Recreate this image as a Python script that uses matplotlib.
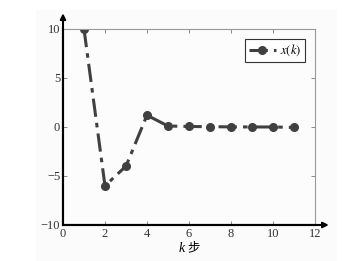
import matplotlib
matplotlib.use('Agg')
import matplotlib.pyplot as plt

# Data
k = [1, 2, 3, 4, 5, 6, 7, 8, 9, 10, 11]
x_k = [10, -6, -4, 1.2, 0.1, 0.05, 0.03, 0.01, 0.0, 0.0, -0.05]
x_ticks = [0, 2, 4, 6, 8, 10, 12]
y_ticks = [-10, -5, 0, 5, 10]
y_ticklabels = ['\u221210', '\u22125', '0', '5', '10']

plt.rcParams['font.family'] = ['Liberation Serif', 'Noto Sans CJK SC']
plt.rcParams['mathtext.fontset'] = 'stix'

fig = plt.figure(figsize=(3.62, 2.61), dpi=100)
fig.patch.set_facecolor('white')
# faint grey page behind the plot
fig.patches.append(plt.Rectangle((0.10, 0.0), 0.83, 0.96, transform=fig.transFigure,
                                 facecolor='#fbfbfb', edgecolor='none', zorder=-1))
ax = fig.add_axes([0.174, 0.138, 0.696, 0.751])
ax.set_facecolor('#fcfcfc')

line_col = '#404040'
ax.plot(k, x_k, color=line_col, linestyle='-.', linewidth=2.2,
        marker='o', markersize=5.5, markerfacecolor=line_col,
        markeredgecolor=line_col, label='$x(k)$', dashes=(6, 2, 1.5, 2))

ax.set_xlim(0, 12)
ax.set_ylim(-10, 10)
ax.set_xticks(x_ticks)
ax.set_yticks(y_ticks)
ax.set_yticklabels(y_ticklabels)
ax.tick_params(direction='in', length=3, width=0.6, labelsize=9,
               top=True, right=True, color='#777777', labelcolor='#333333', pad=2)

for side in ['top', 'right']:
    ax.spines[side].set_color('#999999')
    ax.spines[side].set_linewidth(0.8)
for side in ['left', 'bottom']:
    ax.spines[side].set_color('black')
    ax.spines[side].set_linewidth(1.5)

# Arrow heads on the axes
ax.annotate('', xy=(0, 1.08), xytext=(0, 0), xycoords='axes fraction',
            arrowprops=dict(arrowstyle='-|>', color='black', lw=1.5,
                            mutation_scale=8, shrinkA=0, shrinkB=0),
            annotation_clip=False)
ax.annotate('', xy=(1.055, 0), xytext=(0, 0), xycoords='axes fraction',
            arrowprops=dict(arrowstyle='-|>', color='black', lw=1.5,
                            mutation_scale=8, shrinkA=0, shrinkB=0),
            annotation_clip=False)

# x label: italic k followed by the Chinese word
ax.text(0.485, -0.085, 'k', transform=ax.transAxes, fontsize=10,
        fontstyle='italic', ha='right', va='top', family='Liberation Serif')
ax.text(0.495, -0.085, '步', transform=ax.transAxes, fontsize=9,
        ha='left', va='top', family='Noto Sans CJK SC')

leg = ax.legend(loc='upper right', fontsize=9, handlelength=2.2,
                fancybox=False, framealpha=1, borderpad=0.3,
                handletextpad=0.3, borderaxespad=0.8)
leg.get_frame().set_edgecolor('#333333')
leg.get_frame().set_linewidth(0.8)

fig.savefig('out.png', dpi=100)
